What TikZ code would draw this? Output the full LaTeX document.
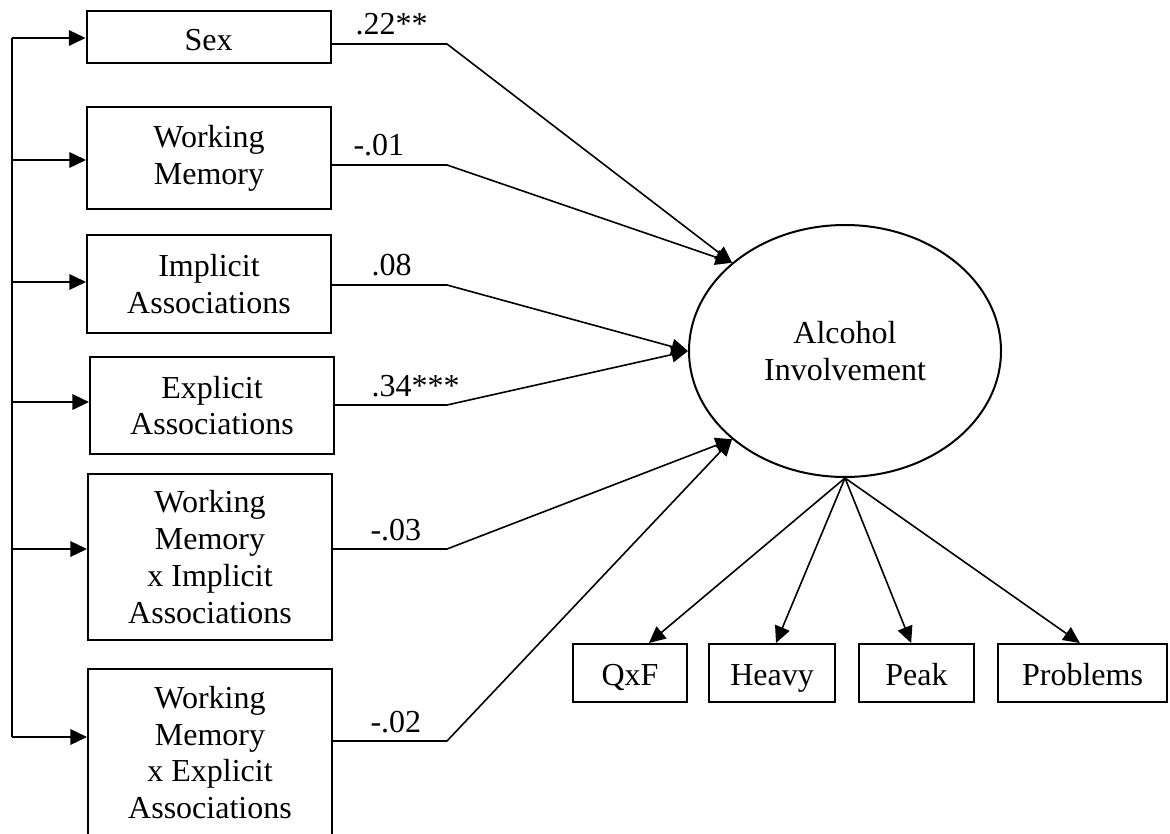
\documentclass[tikz,border=0pt]{standalone}
\usepackage{fontspec}
\setmainfont{Liberation Serif}
\usetikzlibrary{shapes.geometric,arrows.meta}

\tikzset{
  >={Triangle[length=6.2pt,width=5.8pt]},
  every node/.style={font=\fontsize{12pt}{13.8pt}\selectfont},
  box/.style={draw,line width=0.75pt,inner sep=0pt,align=center,minimum width=91.5pt},
  ind/.style={box,minimum height=21.75pt,text height=9pt,text depth=0pt},
  latent/.style={draw,ellipse,line width=0.75pt,inner sep=0pt,align=center,minimum width=117pt,minimum height=94.5pt},
  coef/.style={anchor=base west,inner sep=0pt},
  link/.style={line width=0.6pt}
}

\begin{document}
\begin{tikzpicture}[x=0.375pt,y=-0.375pt]
\useasboundingbox (0,0) rectangle (1170,834);
\clip (0,0) rectangle (1170,834);

% predictors
\node[box,minimum height=19.5pt,text height=10.5pt,text depth=0pt] (sex) at (208.5,37) {Sex};
\node[box,minimum height=38.25pt] (wm) at (209,158) {Working\\Memory};
\node[box,minimum height=36.75pt] (imp) at (209,284) {Implicit\\Associations};
\node[box,minimum height=36.4pt] (exp) at (212,405.5) {Explicit\\Associations};
\node[box,minimum height=62.25pt] (wmi) at (210,557) {Working\\Memory\\x Implicit\\Associations};
\node[box,minimum height=62.6pt] (wme) at (210,752.5) {Working\\Memory\\x Explicit\\Associations};

% latent variable
\node[latent] (alc) at (845,351) {Alcohol\\Involvement};

% indicators
\node[ind,minimum width=42.75pt] (qxf) at (630,673) {QxF};
\node[ind,minimum width=47.25pt] (heavy) at (772,673) {Heavy};
\node[ind,minimum width=43.1pt] (peak) at (916.5,673) {Peak};
\node[ind,minimum width=63.4pt] (probl) at (1082.5,673) {Problems};

% covariance spine on the left
\coordinate (top) at (12,38);
\coordinate (bot) at (12,737);
\draw[link] (top) -- (bot);
\draw[link,->] (top) -- (sex.west |- top);
\draw[link,->] ([yshift=-0.75pt]top |- wm.west) -- ([yshift=-0.75pt]wm.west);
\draw[link,->] ([yshift=0.75pt]top |- imp.west) -- ([yshift=0.75pt]imp.west);
\draw[link,->] ([yshift=1.3pt]top |- exp.west) -- ([yshift=1.3pt]exp.west);
\draw[link,->] ([yshift=3pt]top |- wmi.west) -- ([yshift=3pt]wmi.west);
\draw[link,->] (bot) -- (wme.west |- bot);

% paths to the latent variable
\coordinate (k1) at (447,44);
\coordinate (k2) at (447,165);
\coordinate (k3) at (447,285);
\coordinate (k4) at (447,405);
\coordinate (k5) at (447,549);
\coordinate (k6) at (447,741);
\draw[link,->] (sex.east |- k1) -- (k1) -- (alc.142);
\draw[link,->] (wm.east |- k2) -- (k2) -- (alc.142);
\draw[link,->] (imp.east |- k3) -- (k3) -- (alc.west);
\draw[link,->] (exp.east |- k4) -- (k4) -- (alc.west);
\draw[link,->] (wmi.east |- k5) -- (k5) -- (alc.218.5);
\draw[link,->] (wme.east |- k6) -- (k6) -- (alc.218.5);

% coefficients
\node[coef] (lsex) at (355,35) {.22**};
\node[coef] (lwm) at (353,156) {-.01};
\node[coef] (limp) at (371,276) {.08};
\node[coef] (lexp) at (371,396) {.34***};
\node[coef] (lwmi) at (370,540) {-.03};
\node[coef] (lwme) at (370,732) {-.02};

% loadings
\draw[link,->] (alc.south) -- ([xshift=7.1pt]qxf.north);
\draw[link,->] (alc.south) -- ([xshift=1.5pt]heavy.north);
\draw[link,->] (alc.south) -- ([xshift=-2pt]peak.north);
\draw[link,->] (alc.south) -- ([xshift=-1pt]probl.north);
\end{tikzpicture}
\end{document}
